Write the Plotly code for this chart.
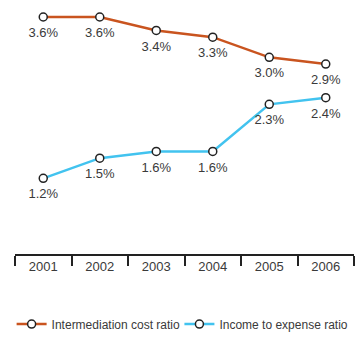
import plotly.graph_objects as go

years = ["2001", "2002", "2003", "2004", "2005", "2006"]
intermediation_cost = [3.6, 3.6, 3.4, 3.3, 3.0, 2.9]
income_to_expense = [1.2, 1.5, 1.6, 1.6, 2.3, 2.4]

ORANGE = "#C9541F"
BLUE = "#42C3EF"
TEXT = "#3a3a3a"
FONT = "Liberation Sans, Arial, sans-serif"


def series(name, values, color, legend):
    return go.Scatter(
        x=years,
        y=values,
        name=name,
        legend=legend,
        mode="lines+markers",
        line=dict(color=color, width=2.5),
        marker=dict(size=8, color="white", line=dict(color="#222222", width=1.5)),
        cliponaxis=False,
    )


def labels(values):
    # transparent, larger markers push the value text a little further below the point
    return go.Scatter(
        x=years,
        y=values,
        mode="markers+text",
        marker=dict(size=15, opacity=0),
        text=[f"{v:.1f}%" for v in values],
        textposition="bottom center",
        textfont=dict(size=13, color=TEXT),
        showlegend=False,
        hoverinfo="skip",
        cliponaxis=False,
    )


fig = go.Figure([
    series("Intermediation cost ratio", intermediation_cost, ORANGE, "legend"),
    series("Income to expense ratio", income_to_expense, BLUE, "legend2"),
    labels(intermediation_cost),
    labels(income_to_expense),
])

legend_style = dict(
    orientation="h",
    xanchor="left",
    y=-0.341,
    yanchor="bottom",
    font=dict(size=12, color=TEXT),
    itemwidth=30,
    bgcolor="rgba(0,0,0,0)",
)

fig.update_layout(
    width=356,
    height=339,
    margin=dict(l=15, r=2, t=10, b=84),
    paper_bgcolor="white",
    plot_bgcolor="white",
    font=dict(family=FONT, color=TEXT, size=13),
    showlegend=True,
    legend=dict(x=-0.01, **legend_style),
    legend2=dict(x=0.485, **legend_style),
    xaxis=dict(
        type="category",
        range=[-0.5, 5.5],
        showgrid=False,
        zeroline=False,
        showline=True,
        linecolor="#222222",
        linewidth=1.5,
        ticks="outside",
        tickson="boundaries",
        ticklen=10,
        tickwidth=1.5,
        tickcolor="#222222",
        tickfont=dict(size=13, color=TEXT),
        fixedrange=True,
    ),
    yaxis=dict(
        range=[0.074, 3.704],
        visible=False,
        showgrid=False,
        zeroline=False,
        fixedrange=True,
    ),
)

fig.write_html("out.html")
